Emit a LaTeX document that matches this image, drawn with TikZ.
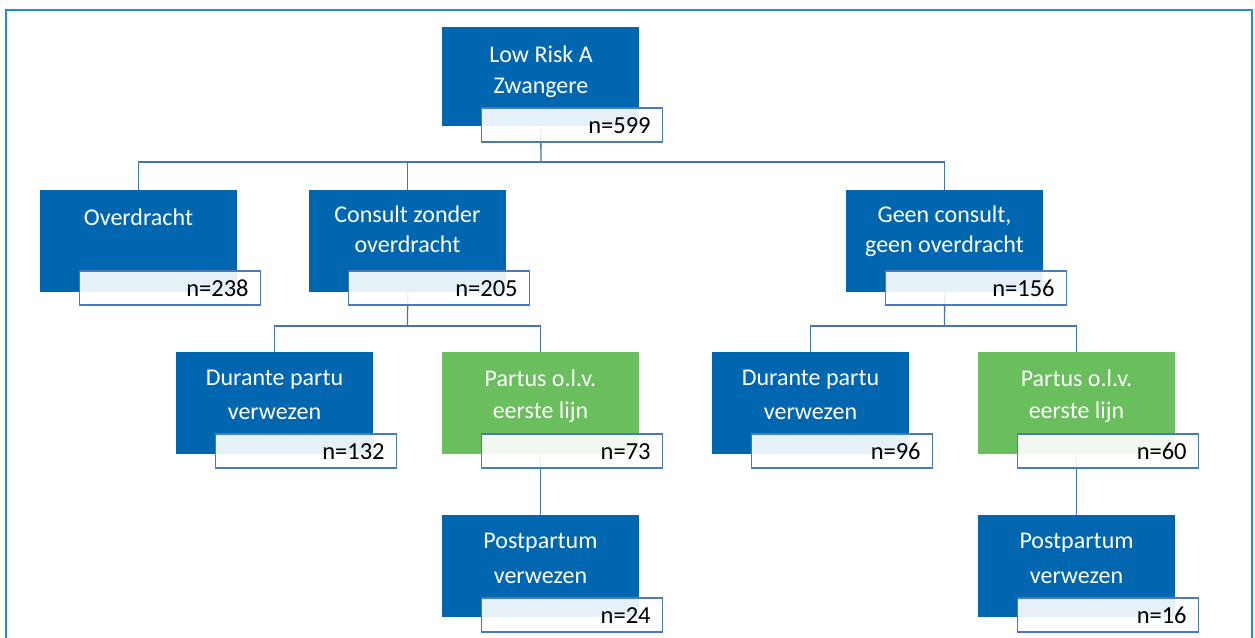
\documentclass[tikz,border=0pt]{standalone}
\usepackage{fontspec}
\setmainfont{Carlito}
\usetikzlibrary{positioning,calc}
\definecolor{boxblue}{RGB}{0,102,175}
\definecolor{boxgreen}{RGB}{106,190,94}
\definecolor{nblue}{RGB}{72,122,192}
\definecolor{connblue}{RGB}{66,116,186}
\definecolor{framecol}{RGB}{28,140,218}
\tikzset{
  mainbox/.style={fill=boxblue, minimum width=197pt, minimum height=102pt, inner sep=0pt, anchor=north west},
  greenbox/.style={mainbox, fill=boxgreen},
  nbox/.style={draw=nblue, line width=1.3pt, fill=white, fill opacity=0.9, text opacity=1,
    minimum width=181pt, minimum height=34pt, text width=157pt, inner xsep=12pt, inner ysep=0pt,
    text height=16pt, text depth=0pt, align=right, anchor=north west, font=\fontsize{24.5}{28}\selectfont},
  boxtext/.style={text=white, anchor=base, inner sep=0pt, font=\fontsize{24}{28}\selectfont},
  conn/.style={draw=connblue, line width=1.3pt},
}
\begin{document}
\begin{tikzpicture}[x=1pt,y=-1pt]
\useasboundingbox (0,0) rectangle (1255,637);
\clip (0,0) rectangle (1255,637);
\draw[draw=framecol, line width=2.5pt] (6,10) rectangle (1252,700);

% bus coordinates
\coordinate (b0) at (541,162);
\coordinate (b1) at (407.5,326);
\coordinate (b2) at (944.5,326);

% main boxes
\node[mainbox, minimum height=99pt] (root) at (442,27) {};
\node[mainbox] (ov) at (40,190) {};
\node[mainbox] (cons) at (309,190) {};
\node[mainbox] (geen) at (846,190) {};
\node[mainbox] (dur1) at (176,352) {};
\node[greenbox] (par1) at (442,352) {};
\node[mainbox] (dur2) at (712,352) {};
\node[greenbox] (par2) at (978,352) {};
\node[mainbox] (post1) at (442,515) {};
\node[mainbox] (post2) at (978,515) {};

% connectors
\draw[conn] (root.south) -- (b0);
\draw[conn] (ov.north) |- (b0) -| (geen.north);
\draw[conn] (cons.north) -- (cons.north |- b0);
\draw[conn] (cons.south) -- (b1);
\draw[conn] (dur1.north) |- (b1) -| (par1.north);
\draw[conn] (geen.south) -- (b2);
\draw[conn] (dur2.north) |- (b2) -| (par2.north);
\draw[conn] (par1.south) -- (post1.north);
\draw[conn] (par2.south) -- (post2.north);

% box texts
\node[boxtext] (troot1) at (541,62) {Low Risk A};
\node[boxtext] (troot2) at (541,93) {Zwangere};
\node[boxtext] (tov) at (138.5,225) {Overdracht};
\node[boxtext] (tcons1) at (407.5,222) {Consult zonder};
\node[boxtext] (tcons2) at (407.5,252) {overdracht};
\node[boxtext] (tgeen1) at (944.5,222) {Geen consult,};
\node[boxtext] (tgeen2) at (944.5,252) {geen overdracht};
\node[boxtext] (tdur11) at (274.5,385) {Durante partu};
\node[boxtext] (tdur12) at (274.5,419) {verwezen};
\node[boxtext] (tpar11) at (540.5,386) {Partus o.l.v.};
\node[boxtext] (tpar12) at (540.5,418) {eerste lijn};
\node[boxtext] (tdur21) at (810.5,385) {Durante partu};
\node[boxtext] (tdur22) at (810.5,419) {verwezen};
\node[boxtext] (tpar21) at (1076.5,386) {Partus o.l.v.};
\node[boxtext] (tpar22) at (1076.5,418) {eerste lijn};
\node[boxtext] (tpost11) at (540.5,548) {Postpartum};
\node[boxtext] (tpost12) at (540.5,583) {verwezen};
\node[boxtext] (tpost21) at (1076.5,548) {Postpartum};
\node[boxtext] (tpost22) at (1076.5,583) {verwezen};

% n boxes
\node[nbox] (nroot) at ([shift={(39,-19)}]root.south west) {n=599};
\node[nbox] (nov) at ([shift={(39,-22)}]ov.south west) {n=238};
\node[nbox] (ncons) at ([shift={(39,-22)}]cons.south west) {n=205};
\node[nbox] (ngeen) at ([shift={(39,-22)}]geen.south west) {n=156};
\node[nbox] (ndur1) at ([shift={(39,-21)}]dur1.south west) {n=132};
\node[nbox] (npar1) at ([shift={(39,-21)}]par1.south west) {n=73};
\node[nbox] (ndur2) at ([shift={(39,-21)}]dur2.south west) {n=96};
\node[nbox] (npar2) at ([shift={(39,-21)}]par2.south west) {n=60};
\node[nbox] (npost1) at ([shift={(39,-20)}]post1.south west) {n=24};
\node[nbox] (npost2) at ([shift={(39,-20)}]post2.south west) {n=16};
\end{tikzpicture}
\end{document}
